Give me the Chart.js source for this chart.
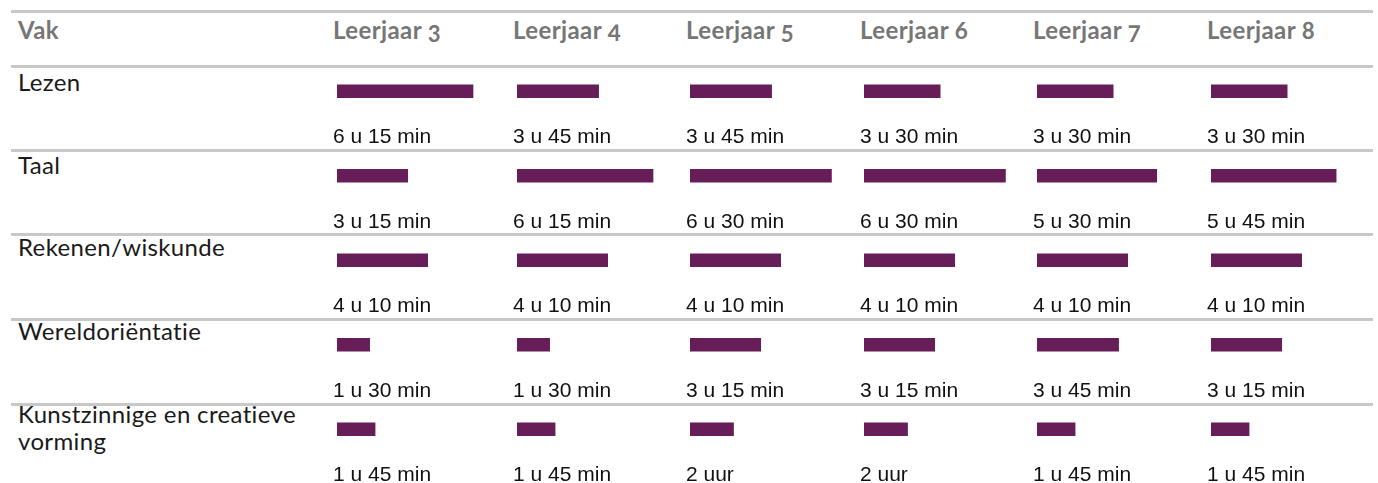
<!DOCTYPE html>
<html>
<head>
<meta charset="utf-8">
<script src="https://cdn.jsdelivr.net/npm/chart.js@4"></script>
<style>
  body { margin: 0; width: 1378px; height: 483px; overflow: hidden; background: #fff; position: relative; }
  .rule { position: absolute; left: 11px; width: 1362px; height: 3px; background: #c8c8c8; }
  .head { position: absolute; top: 15px; font-family: Lato, sans-serif; font-weight: bold; font-size: 24px; letter-spacing: 0.4px; color: #767676; font-feature-settings: "onum"; white-space: nowrap; }
  .vak { position: absolute; left: 18px; font-family: Lato, sans-serif; font-size: 24px; letter-spacing: 0.35px; color: #1a1a1a; line-height: 27px; width: 300px; }
  canvas { position: absolute; }
</style>
</head>
<body>
<script>
'use strict';

// data
var vakken = ['Lezen', 'Taal', 'Rekenen/wiskunde', 'Wereldoriëntatie', 'Kunstzinnige en creatieve vorming'];
var leerjaren = ['Leerjaar 3', 'Leerjaar 4', 'Leerjaar 5', 'Leerjaar 6', 'Leerjaar 7', 'Leerjaar 8'];
// minuten per week, per leerjaar (volgorde = vakken)
var leerjaar3 = [375, 195, 250, 90, 105];
var leerjaar4 = [225, 375, 250, 90, 105];
var leerjaar5 = [225, 390, 250, 195, 120];
var leerjaar6 = [210, 390, 250, 195, 120];
var leerjaar7 = [210, 330, 250, 225, 105];
var leerjaar8 = [210, 345, 250, 195, 105];
var kolommen = [leerjaar3, leerjaar4, leerjaar5, leerjaar6, leerjaar7, leerjaar8];

// layout
var colLeft = [333, 513, 686, 860, 1033, 1207];
var colWidth = [180, 173, 174, 173, 174, 171];
var rules = [10, 65, 149, 233, 318, 403];
var pxPerMin = 0.3627;

function fmt(m){
    var u = Math.floor(m / 60), r = m % 60;
    if( r == 0 ) return u + ' uur';
    return u + ' u ' + r + ' min';
}

rules.forEach(function(y){
    var d = document.createElement('div');
    d.className = 'rule';
    d.style.top = y + 'px';
    document.body.appendChild(d);
});

var h = document.createElement('div');
h.className = 'head';
h.style.left = '18px';
h.textContent = 'Vak';
document.body.appendChild(h);

leerjaren.forEach(function(l, i){
    var d = document.createElement('div');
    d.className = 'head';
    d.style.left = colLeft[i] + 'px';
    d.textContent = l;
    document.body.appendChild(d);
});

vakken.forEach(function(v, i){
    var d = document.createElement('div');
    d.className = 'vak';
    d.style.top = (rules[i + 1] + 3 - i * 1.5) + 'px';
    d.textContent = v;
    document.body.appendChild(d);
});

var labelPlugin = {
    id: 'labels',
    afterDatasetsDraw: function(chart){
        var ctx = chart.ctx;
        var meta = chart.getDatasetMeta(0);
        ctx.save();
        ctx.font = '21px "Liberation Sans", Arial, sans-serif';
        ctx.fillStyle = '#111';
        ctx.textAlign = 'left';
        ctx.textBaseline = 'alphabetic';
        meta.data.forEach(function(bar, i){
            ctx.fillText(fmt(chart.data.datasets[0].data[i]), bar.base - 4, bar.y + 52);
        });
        ctx.restore();
    }
};

kolommen.forEach(function(vals, i){
    var c = document.createElement('canvas');
    c.width = colWidth[i];
    c.height = 434;
    c.style.left = colLeft[i] + 'px';
    c.style.top = '49px';
    document.body.appendChild(c);
    new Chart(c, {
        type: 'bar',
        data: {
            labels: vakken,
            datasets: [{
                data: vals,
                backgroundColor: '#671d58',
                borderWidth: 0,
                barThickness: 13
            }]
        },
        options: {
            indexAxis: 'y',
            responsive: false,
            animation: false,
            layout: { padding: { left: 4, right: 0, top: 0, bottom: 11.5 } },
            plugins: {
                legend: { display: false },
                tooltip: { enabled: false }
            },
            scales: {
                x: { display: false, min: 0, max: (colWidth[i] - 4) / pxPerMin },
                y: { display: false }
            }
        },
        plugins: [labelPlugin]
    });
});
</script>
</body>
</html>
